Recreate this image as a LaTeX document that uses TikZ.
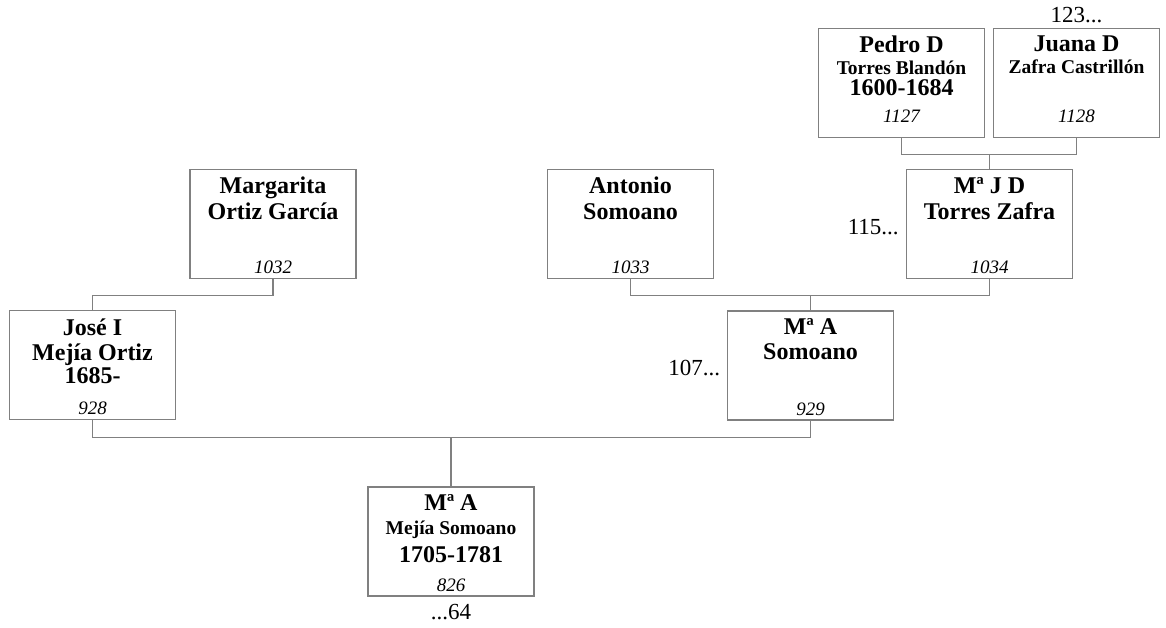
\documentclass[tikz,border=0pt]{standalone}
\usepackage{fontspec}
\setmainfont{Liberation Serif}
\usetikzlibrary{calc,positioning}
\definecolor{linegray}{RGB}{128,128,128}

\begin{document}
\begin{tikzpicture}[x=1pt, y=1pt,
  person/.style={draw=linegray, line width=1.2pt, minimum width=166pt, minimum height=109pt, inner sep=0pt},
  nametext/.style={font=\fontsize{24}{25}\selectfont\bfseries, align=center, inner sep=0pt, anchor=north},
  numtext/.style={font=\fontsize{19}{19}\selectfont\itshape, inner sep=0pt, anchor=base},
  genref/.style={font=\fontsize{23}{23}\selectfont, inner sep=0pt},
  famline/.style={draw=linegray, line width=1.2pt}]

\useasboundingbox (0,0) rectangle (1166,-627);

\node[person] (p1127) at (901.5,-83)  {};
\node[person] (p1128) at (1076.5,-83) {};
\node[person] (p1032) at (273,-224)   {};
\node[person] (p1033) at (630.5,-224) {};
\node[person] (p1034) at (989.5,-224) {};
\node[person] (p928)  at (92.5,-365)  {};
\node[person] (p929)  at (810.5,-365.5) {};
\node[person] (p826)  at (451,-541.5) {};

\node[nametext] (t1127) at ([yshift=-8pt]p1127.north)
  {Pedro D\\[-3pt] {\fontsize{19.5}{20}\selectfont Torres Blandón}\\[-4pt] 1600-1684};
\node[nametext] (t1128) at ([yshift=-8pt]p1128.north)
  {Juana D\\[-3pt] {\fontsize{19.5}{20}\selectfont Zafra Castrillón}};
\node[nametext] (t1032) at ([yshift=-8pt]p1032.north) {Margarita\\[1pt] Ortiz García};
\node[nametext] (t1033) at ([yshift=-8pt]p1033.north) {Antonio\\[1pt] Somoano};
\node[nametext] (t1034) at ([yshift=-8pt]p1034.north) {Mª J D\\[1pt] Torres Zafra};
\node[nametext] (t928)  at ([yshift=-8.5pt]p928.north) {José I\\ Mejía Ortiz\\[-2pt] 1685-};
\node[nametext] (t929)  at ([yshift=-7.5pt]p929.north) {Mª A\\ Somoano};
\node[nametext] (t826)  at ([yshift=-7.5pt]p826.north)
  {Mª A\\[-1pt] {\fontsize{19.5}{20}\selectfont Mejía Somoano}\\[3pt] 1705-1781};

\node[numtext] (n1127) at ([yshift=15.5pt]p1127.south) {1127};
\node[numtext] (n1128) at ([yshift=15.5pt]p1128.south) {1128};
\node[numtext] (n1032) at ([yshift=5.5pt]p1032.south) {1032};
\node[numtext] (n1033) at ([yshift=5.5pt]p1033.south) {1033};
\node[numtext] (n1034) at ([yshift=5.5pt]p1034.south) {1034};
\node[numtext] (n928)  at ([yshift=6pt]p928.south)   {928};
\node[numtext] (n929)  at ([yshift=5pt]p929.south)   {929};
\node[numtext] (n826)  at ([yshift=5pt]p826.south)   {826};

\node[genref, anchor=base] (more1128) at ([yshift=5.5pt]p1128.north) {123...};
\node[genref, anchor=base east] (more1034) at ([xshift=-7pt,yshift=-10.3pt]p1034.west) {115...};
\node[genref, anchor=base east] (more929) at ([xshift=-6.5pt,yshift=-10pt]p929.west) {107...};
\node[genref, anchor=base] (more826) at ([yshift=-23pt]p826.south) {...64};

\draw[famline] (p1127.south) -- ++(0,-16) coordinate (j1034) -| (p1128.south);
\draw[famline] (p1034.north) -- (p1034.north |- j1034);
\draw[famline] (p1032.south) -- ++(0,-16) -| (p928.north);
\draw[famline] (p1033.south) -- ++(0,-16) coordinate (j929) -| (p1034.south);
\draw[famline] (p929.north) -- (p929.north |- j929);
\draw[famline] (p928.south) -- ++(0,-17) coordinate (j826) -| (p929.south);
\draw[famline] (p826.north) -- (p826.north |- j826);

\end{tikzpicture}
\end{document}
